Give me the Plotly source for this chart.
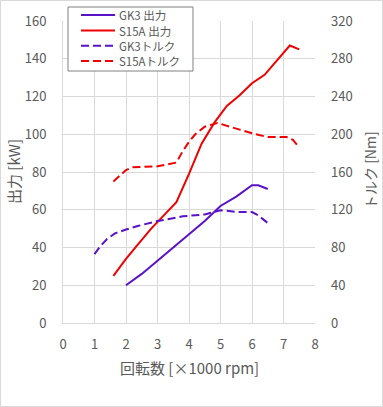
import plotly.graph_objects as go

# Data (rpm in thousands)
s15a_power_x = [1.6, 2.0, 2.4, 2.8, 3.2, 3.6, 4.0, 4.4, 4.8, 5.2, 5.6, 6.0, 6.4, 6.8, 7.2, 7.5]
s15a_power_y = [25, 34, 42, 50, 57, 64, 79, 95, 106, 115, 120.5, 127, 131.5, 139, 147, 145]

gk3_power_x = [2.0, 2.5, 3.0, 3.5, 4.0, 4.5, 5.0, 5.5, 6.0, 6.2, 6.5]
gk3_power_y = [20, 26, 33, 40, 47, 54, 62, 67, 73, 73, 71]

s15a_torque_x = [1.6, 2.0, 2.2, 3.0, 3.6, 3.8, 4.0, 4.2, 4.5, 4.9, 5.5, 6.0, 6.5, 7.1, 7.3, 7.5]
s15a_torque_y = [150, 162, 165, 166, 170, 182, 192, 200, 208, 212, 206, 201, 197, 197, 194, 186]

gk3_torque_x = [1.0, 1.2, 1.4, 1.65, 2.0, 2.4, 3.0, 3.8, 4.5, 5.0, 5.6, 6.0, 6.2, 6.5]
gk3_torque_y = [73, 82, 89, 95, 99, 103, 108, 113, 115, 119.5, 117.5, 117.5, 114, 106]

series_names = ["GK3 出力", "S15A 出力", "GK3トルク", "S15Aトルク"]
x_title = "回転数 [×1000 rpm]"
y_title = "出力 [kW]"
y2_title = "トルク [Nm]"

x_ticks = [0, 1, 2, 3, 4, 5, 6, 7, 8]
y_ticks = [0, 20, 40, 60, 80, 100, 120, 140, 160]
y2_ticks = [0, 40, 80, 120, 160, 200, 240, 280, 320]

PURPLE = "#5a12c8"
RED = "#f00000"
FONT = "Noto Sans CJK JP, Noto Sans, sans-serif"
GRAY = "#595959"
GRID = "#d9d9d9"
DASH = "8px,4px"

styles = [(PURPLE, "solid"), (RED, "solid"), (PURPLE, DASH), (RED, DASH)]

fig = go.Figure()
fig.add_trace(go.Scatter(x=gk3_power_x, y=gk3_power_y, mode="lines", name=series_names[0],
                         line=dict(color=PURPLE, width=2)))
fig.add_trace(go.Scatter(x=s15a_power_x, y=s15a_power_y, mode="lines", name=series_names[1],
                         line=dict(color=RED, width=2)))
fig.add_trace(go.Scatter(x=gk3_torque_x, y=gk3_torque_y, mode="lines", name=series_names[2],
                         line=dict(color=PURPLE, width=2, dash=DASH), yaxis="y2"))
fig.add_trace(go.Scatter(x=s15a_torque_x, y=s15a_torque_y, mode="lines", name=series_names[3],
                         line=dict(color=RED, width=2, dash=DASH), yaxis="y2"))

# plot area in pixels: x 63..315, y 21..323
PL, PR, PT, PB = 63, 315, 21, 323
PW, PH = PR - PL, PB - PT


def px(x):
    return (x - PL) / PW


def py(y):
    return (PB - y) / PH


fig.update_layout(
    width=383, height=407,
    margin=dict(l=PL, r=383 - PR, t=PT, b=407 - PB, autoexpand=False),
    paper_bgcolor="white", plot_bgcolor="white",
    font=dict(family=FONT, size=12, color=GRAY),
    showlegend=False,
    xaxis=dict(range=[0, 8], tickvals=x_ticks, showgrid=True, gridcolor=GRID,
               showline=True, linecolor=GRID, zeroline=False, ticks="",
               automargin=False, ticklabelstandoff=9, tickfont=dict(size=13)),
    yaxis=dict(range=[0, 160], tickvals=y_ticks, showgrid=True, gridcolor=GRID,
               showline=True, linecolor=GRID, zeroline=False, ticks="",
               automargin=False, ticklabelstandoff=13, tickfont=dict(size=13)),
    yaxis2=dict(range=[0, 320], tickvals=y2_ticks, overlaying="y", side="right",
                showgrid=False, showline=False, zeroline=False, ticks="",
                automargin=False, ticklabelstandoff=15, tickfont=dict(size=13)),
)

# Axis titles
fig.add_annotation(xref="paper", yref="paper", x=px(189), y=py(367),
                   xanchor="center", yanchor="middle", showarrow=False,
                   text=x_title, font=dict(family=FONT, size=15, color=GRAY))
fig.add_annotation(xref="paper", yref="paper", x=px(13), y=py(172),
                   xanchor="center", yanchor="middle", showarrow=False, textangle=-90,
                   text=y_title, font=dict(family=FONT, size=15, color=GRAY))
fig.add_annotation(xref="paper", yref="paper", x=px(370), y=py(170),
                   xanchor="center", yanchor="middle", showarrow=False, textangle=-90,
                   text=y2_title, font=dict(family=FONT, size=14, color=GRAY))

# Custom legend (Excel style)
fig.add_shape(type="rect", xref="paper", yref="paper",
              x0=px(68), x1=px(193), y0=py(71), y1=py(7),
              line=dict(color="#808080", width=1), fillcolor="white", layer="above")
row_y = [15, 30.5, 45.8, 61]
for name, (color, dash), ry in zip(series_names, styles, row_y):
    fig.add_shape(type="line", xref="paper", yref="paper",
                  x0=px(81), x1=px(115), y0=py(ry), y1=py(ry),
                  line=dict(color=color, width=2, dash=dash), layer="above")
    fig.add_annotation(xref="paper", yref="paper", x=px(118), y=py(ry),
                       xanchor="left", yanchor="middle", showarrow=False, borderpad=0,
                       text=name, font=dict(family=FONT, size=11.5, color=GRAY))

# Outer chart border
fig.add_shape(type="rect", xref="paper", yref="paper",
              x0=px(0.5), x1=px(382.5), y0=py(406.5), y1=py(0.5),
              line=dict(color="#d9d9d9", width=1), fillcolor="rgba(0,0,0,0)", layer="below")

fig.write_html("out.html", config={"displayModeBar": False},
               post_script="document.body.style.margin='0px';")
